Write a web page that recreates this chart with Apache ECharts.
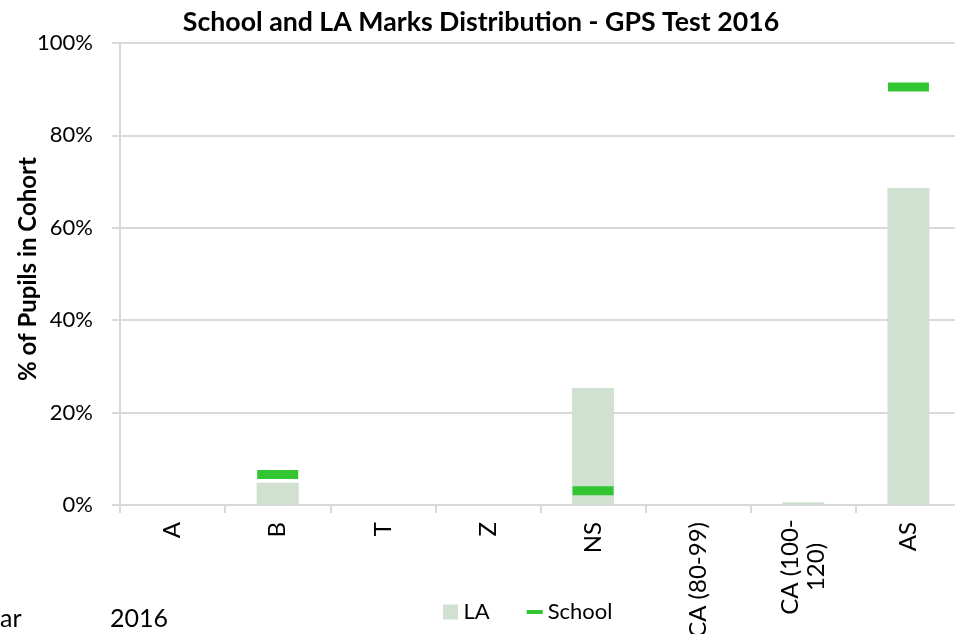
<!DOCTYPE html>
<html>
<head>
<meta charset="utf-8">
<script src="https://cdn.jsdelivr.net/npm/echarts@6/dist/echarts.min.js"></script>
<style>html,body{margin:0;padding:0;background:#fff;}#c{width:955px;height:634px;}</style>
</head>
<body>
<div id="c"></div>
<script>
const categories = ['A', 'B', 'T', 'Z', 'NS', 'CA (80-99)', 'CA (100-\n120)', 'AS'];
const laValues = [0, 4.8, 0, 0, 25.3, 0, 0.6, 68.6];
const schoolValues = [null, 6.6, null, null, 3.1, null, null, 90.5];
const yTicks = [0, 20, 40, 60, 80, 100];
const titleText = 'School and LA Marks Distribution - GPS Test 2016';
const yAxisTitle = '% of Pupils in Cohort';
const footLeft = 'ar';
const footYear = '2016';

const FONT = 'Lato';
const chart = echarts.init(document.getElementById('c'), null, {renderer: 'canvas'});
chart.setOption({
  animation: false,
  backgroundColor: '#fff',
  textStyle: {fontFamily: FONT},
  title: {
    text: titleText, left: 476, top: 4, textAlign: 'center',
    textStyle: {fontFamily: FONT, fontWeight: 'bold', fontSize: 26.7, color: '#000'}
  },
  grid: {left: 120, width: 841, top: 43, bottom: 129, containLabel: false, outerBoundsMode: 'none'},
  legend: {
    left: 443, top: 601, padding: 0, itemGap: 37, itemWidth: 16, itemHeight: 15,
    textStyle: {fontFamily: FONT, fontSize: 22, color: '#000'},
    data: [
      {name: 'LA', icon: 'path://M0,0H15V15H0Z', itemStyle: {color: '#d0e0d1'}},
      {name: 'School', icon: 'path://M0,0H16V4H0Z', itemStyle: {color: '#33c633'}}
    ]
  },
  xAxis: {
    type: 'category', data: categories,
    axisLine: {lineStyle: {color: '#d9d9d9', width: 2}},
    axisTick: {show: true, length: 8, lineStyle: {color: '#d9d9d9', width: 2}},
    axisLabel: {
      rotate: 90, fontFamily: FONT, fontSize: 24, color: '#000', margin: 17, lineHeight: 26, align: 'right',
      formatter: function (v) {
        if (v.indexOf('\n') >= 0) {
          const parts = v.split('\n');
          return parts.map(p => '{c|' + p + '}').join('\n');
        }
        return v;
      },
      rich: {c: {fontFamily: FONT, fontSize: 24, color: '#000', width: 90, align: 'center', lineHeight: 26}}
    }
  },
  yAxis: {
    type: 'value', min: 0, max: 100, interval: 20,
    axisLine: {show: true, lineStyle: {color: '#d9d9d9', width: 2}},
    axisTick: {show: true, length: 8, lineStyle: {color: '#d9d9d9', width: 2}},
    splitLine: {lineStyle: {color: '#d9d9d9', width: 2}},
    axisLabel: {
      fontFamily: FONT, fontSize: 22, color: '#000', margin: 27,
      formatter: v => yTicks.includes(v) ? v + '%' : ''
    }
  },
  series: [
    {name: 'LA', type: 'bar', data: laValues, barWidth: '40%', itemStyle: {color: '#d0e0d1'}, z: 2},
    {name: 'School', type: 'scatter', data: schoolValues, symbol: 'rect', symbolSize: [41, 9], itemStyle: {color: '#33c633', opacity: 1}, z: 3}
  ],
  graphic: [
    {type: 'text', x: 28, y: 269, rotation: Math.PI / 2,
     style: {text: yAxisTitle, font: 'bold 24px ' + FONT, fill: '#000', align: 'center', verticalAlign: 'middle'}},
    {type: 'text', left: 0, top: 606, style: {text: footLeft, font: '25px ' + FONT, fill: '#000'}},
    {type: 'text', left: 110, top: 606, style: {text: footYear, font: '25px ' + FONT, fill: '#000'}}
  ]
});
</script>
</body>
</html>
